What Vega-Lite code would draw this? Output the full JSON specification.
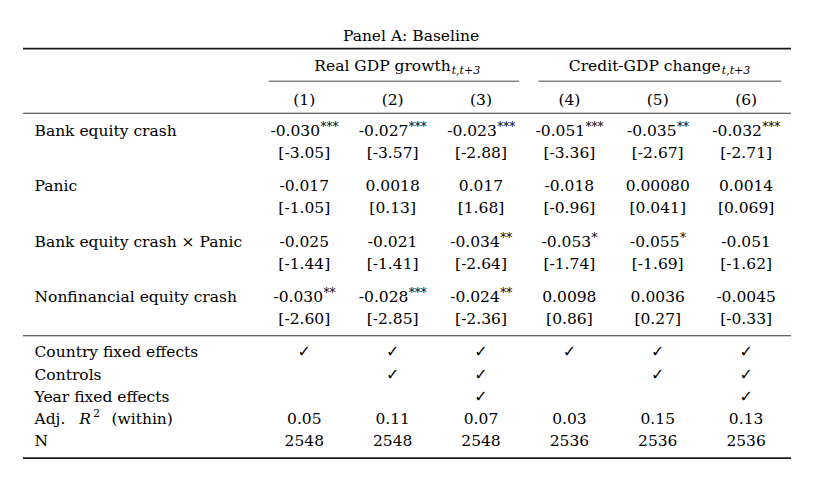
{
  "$schema": "https://vega.github.io/schema/vega-lite/v6.json",
  "width": 830,
  "height": 482,
  "autosize": {"type": "fit", "contains": "padding"},
  "padding": {"left": 22, "right": 38, "top": 0, "bottom": 0},
  "background": "#ffffff",
  "config": {
    "view": {"stroke": null},
    "text": {"font": "DejaVu Serif", "fontSize": 15.5, "color": "#000000", "baseline": "middle"}
  },
  "datasets": {
    "rules": [
      {"row": -7.45, "kind": "top"},
      {"row": -1.6, "kind": "mid"},
      {"row": 18.5, "kind": "mid"},
      {"row": 29.55, "kind": "bottom"}
    ],
    "cmid": [
      {"row": -4.5, "c0": 0.6, "c1": 3.43},
      {"row": -4.5, "c0": 3.65, "c1": 6.4}
    ],
    "title": [{"row": -8.6, "label": "Panel A: Baseline"}],
    "headers": [
      {"row": -5.9, "col": 2, "label": "Real GDP growth", "sub": "t,t+3"},
      {"row": -5.9, "col": 5, "label": "Credit-GDP change", "sub": "t,t+3"}
    ],
    "stub": [
      {"row": 0, "col": 0, "label": "Bank equity crash"},
      {"row": 5, "col": 0, "label": "Panic"},
      {"row": 10, "col": 0, "label": "Bank equity crash × Panic"},
      {"row": 15, "col": 0, "label": "Nonfinancial equity crash"},
      {"row": 20, "col": 0, "label": "Country fixed effects"},
      {"row": 22, "col": 0, "label": "Controls"},
      {"row": 24, "col": 0, "label": "Year fixed effects"},
      {"row": 28, "col": 0, "label": "N"}
    ],
    "adj": [
      {"row": 26, "col": 0, "a": "Adj.", "r": "R", "sup": "2", "w": "(within)"}
    ],
    "cells": [
      {"row": -2.8, "col": 1, "val": "(1)", "stars": ""},
      {"row": -2.8, "col": 2, "val": "(2)", "stars": ""},
      {"row": -2.8, "col": 3, "val": "(3)", "stars": ""},
      {"row": -2.8, "col": 4, "val": "(4)", "stars": ""},
      {"row": -2.8, "col": 5, "val": "(5)", "stars": ""},
      {"row": -2.8, "col": 6, "val": "(6)", "stars": ""},
      {"row": 0, "col": 1, "val": "-0.030", "stars": "***"},
      {"row": 0, "col": 2, "val": "-0.027", "stars": "***"},
      {"row": 0, "col": 3, "val": "-0.023", "stars": "***"},
      {"row": 0, "col": 4, "val": "-0.051", "stars": "***"},
      {"row": 0, "col": 5, "val": "-0.035", "stars": "**"},
      {"row": 0, "col": 6, "val": "-0.032", "stars": "***"},
      {"row": 2, "col": 1, "val": "[-3.05]", "stars": ""},
      {"row": 2, "col": 2, "val": "[-3.57]", "stars": ""},
      {"row": 2, "col": 3, "val": "[-2.88]", "stars": ""},
      {"row": 2, "col": 4, "val": "[-3.36]", "stars": ""},
      {"row": 2, "col": 5, "val": "[-2.67]", "stars": ""},
      {"row": 2, "col": 6, "val": "[-2.71]", "stars": ""},
      {"row": 5, "col": 1, "val": "-0.017", "stars": ""},
      {"row": 5, "col": 2, "val": "0.0018", "stars": ""},
      {"row": 5, "col": 3, "val": "0.017", "stars": ""},
      {"row": 5, "col": 4, "val": "-0.018", "stars": ""},
      {"row": 5, "col": 5, "val": "0.00080", "stars": ""},
      {"row": 5, "col": 6, "val": "0.0014", "stars": ""},
      {"row": 7, "col": 1, "val": "[-1.05]", "stars": ""},
      {"row": 7, "col": 2, "val": "[0.13]", "stars": ""},
      {"row": 7, "col": 3, "val": "[1.68]", "stars": ""},
      {"row": 7, "col": 4, "val": "[-0.96]", "stars": ""},
      {"row": 7, "col": 5, "val": "[0.041]", "stars": ""},
      {"row": 7, "col": 6, "val": "[0.069]", "stars": ""},
      {"row": 10, "col": 1, "val": "-0.025", "stars": ""},
      {"row": 10, "col": 2, "val": "-0.021", "stars": ""},
      {"row": 10, "col": 3, "val": "-0.034", "stars": "**"},
      {"row": 10, "col": 4, "val": "-0.053", "stars": "*"},
      {"row": 10, "col": 5, "val": "-0.055", "stars": "*"},
      {"row": 10, "col": 6, "val": "-0.051", "stars": ""},
      {"row": 12, "col": 1, "val": "[-1.44]", "stars": ""},
      {"row": 12, "col": 2, "val": "[-1.41]", "stars": ""},
      {"row": 12, "col": 3, "val": "[-2.64]", "stars": ""},
      {"row": 12, "col": 4, "val": "[-1.74]", "stars": ""},
      {"row": 12, "col": 5, "val": "[-1.69]", "stars": ""},
      {"row": 12, "col": 6, "val": "[-1.62]", "stars": ""},
      {"row": 15, "col": 1, "val": "-0.030", "stars": "**"},
      {"row": 15, "col": 2, "val": "-0.028", "stars": "***"},
      {"row": 15, "col": 3, "val": "-0.024", "stars": "**"},
      {"row": 15, "col": 4, "val": "0.0098", "stars": ""},
      {"row": 15, "col": 5, "val": "0.0036", "stars": ""},
      {"row": 15, "col": 6, "val": "-0.0045", "stars": ""},
      {"row": 17, "col": 1, "val": "[-2.60]", "stars": ""},
      {"row": 17, "col": 2, "val": "[-2.85]", "stars": ""},
      {"row": 17, "col": 3, "val": "[-2.36]", "stars": ""},
      {"row": 17, "col": 4, "val": "[0.86]", "stars": ""},
      {"row": 17, "col": 5, "val": "[0.27]", "stars": ""},
      {"row": 17, "col": 6, "val": "[-0.33]", "stars": ""},
      {"row": 26, "col": 1, "val": "0.05", "stars": ""},
      {"row": 26, "col": 2, "val": "0.11", "stars": ""},
      {"row": 26, "col": 3, "val": "0.07", "stars": ""},
      {"row": 26, "col": 4, "val": "0.03", "stars": ""},
      {"row": 26, "col": 5, "val": "0.15", "stars": ""},
      {"row": 26, "col": 6, "val": "0.13", "stars": ""},
      {"row": 28, "col": 1, "val": "2548", "stars": ""},
      {"row": 28, "col": 2, "val": "2548", "stars": ""},
      {"row": 28, "col": 3, "val": "2548", "stars": ""},
      {"row": 28, "col": 4, "val": "2536", "stars": ""},
      {"row": 28, "col": 5, "val": "2536", "stars": ""},
      {"row": 28, "col": 6, "val": "2536", "stars": ""}
    ],
    "checks": [
      {"row": 20, "col": 1, "val": "✓"},
      {"row": 20, "col": 2, "val": "✓"},
      {"row": 20, "col": 3, "val": "✓"},
      {"row": 20, "col": 4, "val": "✓"},
      {"row": 20, "col": 5, "val": "✓"},
      {"row": 20, "col": 6, "val": "✓"},
      {"row": 22, "col": 2, "val": "✓"},
      {"row": 22, "col": 3, "val": "✓"},
      {"row": 22, "col": 5, "val": "✓"},
      {"row": 22, "col": 6, "val": "✓"},
      {"row": 24, "col": 3, "val": "✓"},
      {"row": 24, "col": 6, "val": "✓"}
    ]
  },
  "layer": [
    {
      "data": {"name": "rules"},
      "transform": [{"filter": "datum.kind != 'mid'"}],
      "mark": {"type": "rule", "color": "#1a1a1a", "strokeWidth": 1.8},
      "encoding": {
        "y": {"field": "row", "type": "quantitative", "scale": {"domain": [-11.834, 31.707], "reverse": true, "nice": false, "zero": false}, "axis": null}
      }
    },
    {
      "data": {"name": "rules"},
      "transform": [{"filter": "datum.kind == 'mid'"}],
      "mark": {"type": "rule", "color": "#333333", "strokeWidth": 1.1},
      "encoding": {
        "y": {"field": "row", "type": "quantitative", "scale": {"domain": [-11.834, 31.707], "reverse": true, "nice": false, "zero": false}, "axis": null}
      }
    },
    {
      "data": {"name": "cmid"},
      "mark": {"type": "rule", "color": "#444444", "strokeWidth": 1},
      "encoding": {
        "x": {"field": "c0", "type": "quantitative", "scale": {"domain": [-2.1828, 6.5079], "nice": false, "zero": false}, "axis": null},
        "x2": {"field": "c1"},
        "y": {"field": "row", "type": "quantitative", "scale": {"domain": [-11.834, 31.707], "reverse": true, "nice": false, "zero": false}, "axis": null}
      }
    },
    {
      "data": {"name": "title"},
      "mark": {"type": "text", "align": "center", "dx": 4},
      "encoding": {
        "y": {"field": "row", "type": "quantitative", "scale": {"domain": [-11.834, 31.707], "reverse": true, "nice": false, "zero": false}, "axis": null},
        "text": {"field": "label"}
      }
    },
    {
      "data": {"name": "headers"},
      "transform": [{"filter": "datum.col == 2"}],
      "mark": {"type": "text", "align": "right", "dx": 58},
      "encoding": {
        "x": {"field": "col", "type": "quantitative", "scale": {"domain": [-2.1828, 6.5079], "nice": false, "zero": false}, "axis": null},
        "y": {"field": "row", "type": "quantitative", "scale": {"domain": [-11.834, 31.707], "reverse": true, "nice": false, "zero": false}, "axis": null},
        "text": {"field": "label"}
      }
    },
    {
      "data": {"name": "headers"},
      "transform": [{"filter": "datum.col == 2"}],
      "mark": {"type": "text", "align": "left", "dx": 59, "dy": 5, "fontSize": 11, "fontStyle": "italic"},
      "encoding": {
        "x": {"field": "col", "type": "quantitative", "scale": {"domain": [-2.1828, 6.5079], "nice": false, "zero": false}, "axis": null},
        "y": {"field": "row", "type": "quantitative", "scale": {"domain": [-11.834, 31.707], "reverse": true, "nice": false, "zero": false}, "axis": null},
        "text": {"field": "sub"}
      }
    },
    {
      "data": {"name": "headers"},
      "transform": [{"filter": "datum.col == 5"}],
      "mark": {"type": "text", "align": "right", "dx": 63},
      "encoding": {
        "x": {"field": "col", "type": "quantitative", "scale": {"domain": [-2.1828, 6.5079], "nice": false, "zero": false}, "axis": null},
        "y": {"field": "row", "type": "quantitative", "scale": {"domain": [-11.834, 31.707], "reverse": true, "nice": false, "zero": false}, "axis": null},
        "text": {"field": "label"}
      }
    },
    {
      "data": {"name": "headers"},
      "transform": [{"filter": "datum.col == 5"}],
      "mark": {"type": "text", "align": "left", "dx": 64, "dy": 5, "fontSize": 11, "fontStyle": "italic"},
      "encoding": {
        "x": {"field": "col", "type": "quantitative", "scale": {"domain": [-2.1828, 6.5079], "nice": false, "zero": false}, "axis": null},
        "y": {"field": "row", "type": "quantitative", "scale": {"domain": [-11.834, 31.707], "reverse": true, "nice": false, "zero": false}, "axis": null},
        "text": {"field": "sub"}
      }
    },
    {
      "data": {"name": "cells"},
      "transform": [{"filter": "datum.stars == ''"}],
      "mark": {"type": "text", "align": "center"},
      "encoding": {
        "x": {"field": "col", "type": "quantitative", "scale": {"domain": [-2.1828, 6.5079], "nice": false, "zero": false}, "axis": null},
        "y": {"field": "row", "type": "quantitative", "scale": {"domain": [-11.834, 31.707], "reverse": true, "nice": false, "zero": false}, "axis": null},
        "text": {"field": "val"}
      }
    },
    {
      "data": {"name": "cells"},
      "transform": [{"filter": "datum.stars == '***'"}],
      "mark": {"type": "text", "align": "right", "dx": 15.8},
      "encoding": {
        "x": {"field": "col", "type": "quantitative", "scale": {"domain": [-2.1828, 6.5079], "nice": false, "zero": false}, "axis": null},
        "y": {"field": "row", "type": "quantitative", "scale": {"domain": [-11.834, 31.707], "reverse": true, "nice": false, "zero": false}, "axis": null},
        "text": {"field": "val"}
      }
    },
    {
      "data": {"name": "cells"},
      "transform": [{"filter": "datum.stars == '***'"}],
      "mark": {"type": "text", "align": "left", "dx": 16.2, "dy": -4, "fontSize": 12},
      "encoding": {
        "x": {"field": "col", "type": "quantitative", "scale": {"domain": [-2.1828, 6.5079], "nice": false, "zero": false}, "axis": null},
        "y": {"field": "row", "type": "quantitative", "scale": {"domain": [-11.834, 31.707], "reverse": true, "nice": false, "zero": false}, "axis": null},
        "text": {"field": "stars"}
      }
    },
    {
      "data": {"name": "cells"},
      "transform": [{"filter": "datum.stars == '**'"}],
      "mark": {"type": "text", "align": "right", "dx": 18.8},
      "encoding": {
        "x": {"field": "col", "type": "quantitative", "scale": {"domain": [-2.1828, 6.5079], "nice": false, "zero": false}, "axis": null},
        "y": {"field": "row", "type": "quantitative", "scale": {"domain": [-11.834, 31.707], "reverse": true, "nice": false, "zero": false}, "axis": null},
        "text": {"field": "val"}
      }
    },
    {
      "data": {"name": "cells"},
      "transform": [{"filter": "datum.stars == '**'"}],
      "mark": {"type": "text", "align": "left", "dx": 19.2, "dy": -4, "fontSize": 12},
      "encoding": {
        "x": {"field": "col", "type": "quantitative", "scale": {"domain": [-2.1828, 6.5079], "nice": false, "zero": false}, "axis": null},
        "y": {"field": "row", "type": "quantitative", "scale": {"domain": [-11.834, 31.707], "reverse": true, "nice": false, "zero": false}, "axis": null},
        "text": {"field": "stars"}
      }
    },
    {
      "data": {"name": "cells"},
      "transform": [{"filter": "datum.stars == '*'"}],
      "mark": {"type": "text", "align": "right", "dx": 21.8},
      "encoding": {
        "x": {"field": "col", "type": "quantitative", "scale": {"domain": [-2.1828, 6.5079], "nice": false, "zero": false}, "axis": null},
        "y": {"field": "row", "type": "quantitative", "scale": {"domain": [-11.834, 31.707], "reverse": true, "nice": false, "zero": false}, "axis": null},
        "text": {"field": "val"}
      }
    },
    {
      "data": {"name": "cells"},
      "transform": [{"filter": "datum.stars == '*'"}],
      "mark": {"type": "text", "align": "left", "dx": 22.2, "dy": -4, "fontSize": 12},
      "encoding": {
        "x": {"field": "col", "type": "quantitative", "scale": {"domain": [-2.1828, 6.5079], "nice": false, "zero": false}, "axis": null},
        "y": {"field": "row", "type": "quantitative", "scale": {"domain": [-11.834, 31.707], "reverse": true, "nice": false, "zero": false}, "axis": null},
        "text": {"field": "stars"}
      }
    },
    {
      "data": {"name": "checks"},
      "mark": {"type": "text", "align": "center", "font": "DejaVu Sans", "fontSize": 16},
      "encoding": {
        "x": {"field": "col", "type": "quantitative", "scale": {"domain": [-2.1828, 6.5079], "nice": false, "zero": false}, "axis": null},
        "y": {"field": "row", "type": "quantitative", "scale": {"domain": [-11.834, 31.707], "reverse": true, "nice": false, "zero": false}, "axis": null},
        "text": {"field": "val"}
      }
    },
    {
      "data": {"name": "stub"},
      "mark": {"type": "text", "align": "left", "dx": -181.4},
      "encoding": {
        "x": {"field": "col", "type": "quantitative", "scale": {"domain": [-2.1828, 6.5079], "nice": false, "zero": false}, "axis": null},
        "y": {"field": "row", "type": "quantitative", "scale": {"domain": [-11.834, 31.707], "reverse": true, "nice": false, "zero": false}, "axis": null},
        "text": {"field": "label"}
      }
    },
    {
      "data": {"name": "adj"},
      "mark": {"type": "text", "align": "left", "dx": -181.4},
      "encoding": {
        "x": {"field": "col", "type": "quantitative", "scale": {"domain": [-2.1828, 6.5079], "nice": false, "zero": false}, "axis": null},
        "y": {"field": "row", "type": "quantitative", "scale": {"domain": [-11.834, 31.707], "reverse": true, "nice": false, "zero": false}, "axis": null},
        "text": {"field": "a"}
      }
    },
    {
      "data": {"name": "adj"},
      "mark": {"type": "text", "align": "left", "dx": -136.6, "fontStyle": "italic"},
      "encoding": {
        "x": {"field": "col", "type": "quantitative", "scale": {"domain": [-2.1828, 6.5079], "nice": false, "zero": false}, "axis": null},
        "y": {"field": "row", "type": "quantitative", "scale": {"domain": [-11.834, 31.707], "reverse": true, "nice": false, "zero": false}, "axis": null},
        "text": {"field": "r"}
      }
    },
    {
      "data": {"name": "adj"},
      "mark": {"type": "text", "align": "left", "dx": -123, "dy": -5, "fontSize": 11},
      "encoding": {
        "x": {"field": "col", "type": "quantitative", "scale": {"domain": [-2.1828, 6.5079], "nice": false, "zero": false}, "axis": null},
        "y": {"field": "row", "type": "quantitative", "scale": {"domain": [-11.834, 31.707], "reverse": true, "nice": false, "zero": false}, "axis": null},
        "text": {"field": "sup"}
      }
    },
    {
      "data": {"name": "adj"},
      "mark": {"type": "text", "align": "left", "dx": -104.5},
      "encoding": {
        "x": {"field": "col", "type": "quantitative", "scale": {"domain": [-2.1828, 6.5079], "nice": false, "zero": false}, "axis": null},
        "y": {"field": "row", "type": "quantitative", "scale": {"domain": [-11.834, 31.707], "reverse": true, "nice": false, "zero": false}, "axis": null},
        "text": {"field": "w"}
      }
    }
  ]
}
